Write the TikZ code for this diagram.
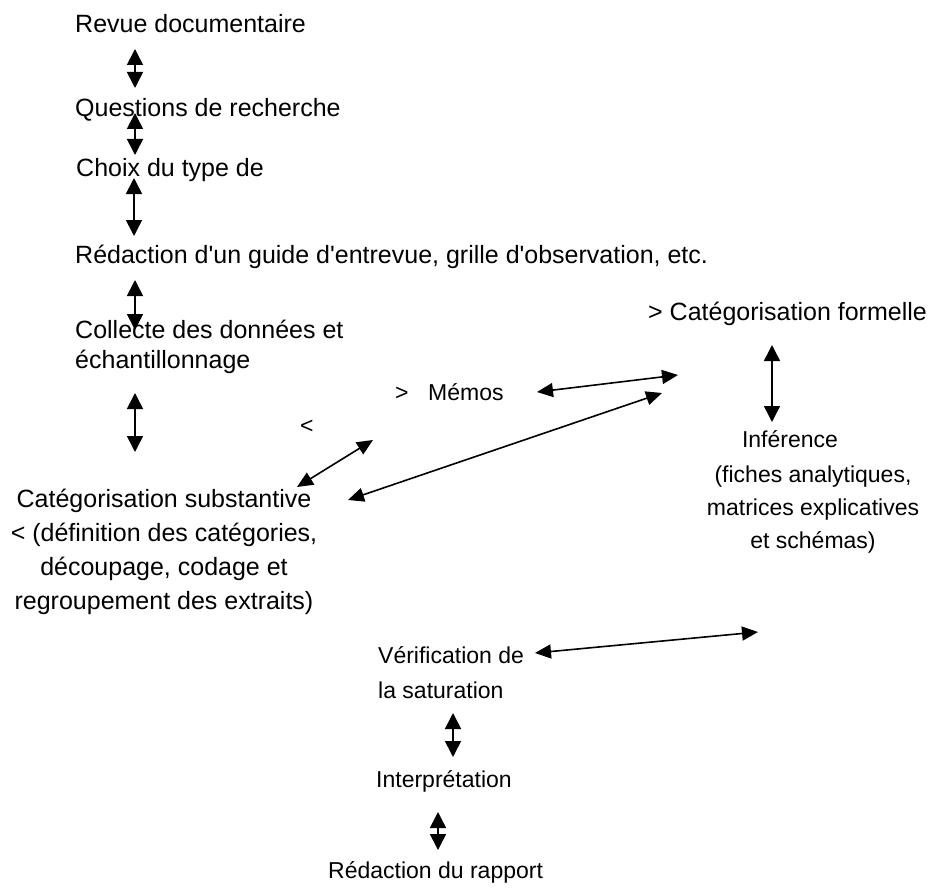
\documentclass[tikz,border=0pt]{standalone}
\usepackage{fontspec}
\setmainfont{Liberation Sans}[Ligatures=TeXOff]
\usetikzlibrary{arrows.meta}
\begin{document}
\begin{tikzpicture}[x=1pt,y=-1pt,
  big/.style={font=\fontsize{25}{34}\selectfont, inner sep=0pt, anchor=base west},
  small/.style={font=\fontsize{23}{34}\selectfont, inner sep=0pt, anchor=base west},
  link/.style={line width=1.6pt, {Triangle[length=16pt,width=16pt]}-{Triangle[length=16pt,width=16pt]}},
  dlink/.style={line width=1.6pt, {Triangle[length=16pt,width=14pt]}-{Triangle[length=16pt,width=14pt]}}]
\useasboundingbox (0,0) rectangle (940,888);
% texts (multi-line nodes: base = baseline of last line)
\node[big] (revue) at (75,33) {Revue documentaire};
\node[big] (questions) at (75,117) {Questions de recherche};
\node[big] (choix) at (76,177) {Choix du type de};
\node[big] (redaction) at (75,263) {Rédaction d'un guide d'entrevue, grille d'observation, etc.};
\node[big, align=left] (collecte) at (75,368) {Collecte des données et\\[-4pt]échantillonnage};
\node[small] (gt) at (395,400) {>};
\node[small] (memos) at (428,400) {Mémos};
\node[small] (lt) at (300,433) {<};
\node[big, align=center, anchor=base] (subst) at (164,609) {Catégorisation substantive\\< (définition des catégories,\\découpage, codage et\\regroupement des extraits)};
\node[big] (formelle) at (648,320) {> Catégorisation formelle};
\node[small, anchor=base] (inference) at (790,447) {Inférence};
\node[small, align=center, anchor=base] (fiches) at (813,548) {(fiches analytiques,\\[-1pt]matrices explicatives\\[-1pt]et schémas)};
\node[small, align=left] (verif) at (378,698) {Vérification de\\[1pt]la saturation};
\node[small] (interp) at (376,787) {Interprétation};
\node[small] (rapport) at (328,878) {Rédaction du rapport};
% arrow end points
\coordinate (a1t) at (135,49);  \coordinate (a1b) at (135,88);
\coordinate (a2t) at (135,113); \coordinate (a2b) at (135,155);
\coordinate (a3t) at (134,178); \coordinate (a3b) at (134,236);
\coordinate (a4t) at (135,280); \coordinate (a4b) at (135,330);
\coordinate (a5t) at (135,393); \coordinate (a5b) at (135,452);
\coordinate (a6t) at (772,345); \coordinate (a6b) at (772,422);
\coordinate (a7t) at (453,713); \coordinate (a7b) at (453,757);
\coordinate (a8t) at (438,812); \coordinate (a8b) at (438,850);
\coordinate (m1) at (537,392);  \coordinate (f1) at (678,375);
\coordinate (s1) at (297,487);  \coordinate (m2) at (373,440);
\coordinate (s2) at (348,500);  \coordinate (f2) at (662,393);
\coordinate (v1) at (535,653);  \coordinate (v2) at (758,632);
% connectors
\draw[link] (a1t) -- (a1b);
\draw[link] (a2t) -- (a2b);
\draw[link] (a3t) -- (a3b);
\draw[link] (a4t) -- (a4b);
\draw[link] (a5t) -- (a5b);
\draw[link] (a6t) -- (a6b);
\draw[link] (a7t) -- (a7b);
\draw[link] (a8t) -- (a8b);
\draw[dlink] (m1) -- (f1);
\draw[dlink] (s1) -- (m2);
\draw[dlink] (s2) -- (f2);
\draw[dlink] (v1) -- (v2);
\end{tikzpicture}
\end{document}
